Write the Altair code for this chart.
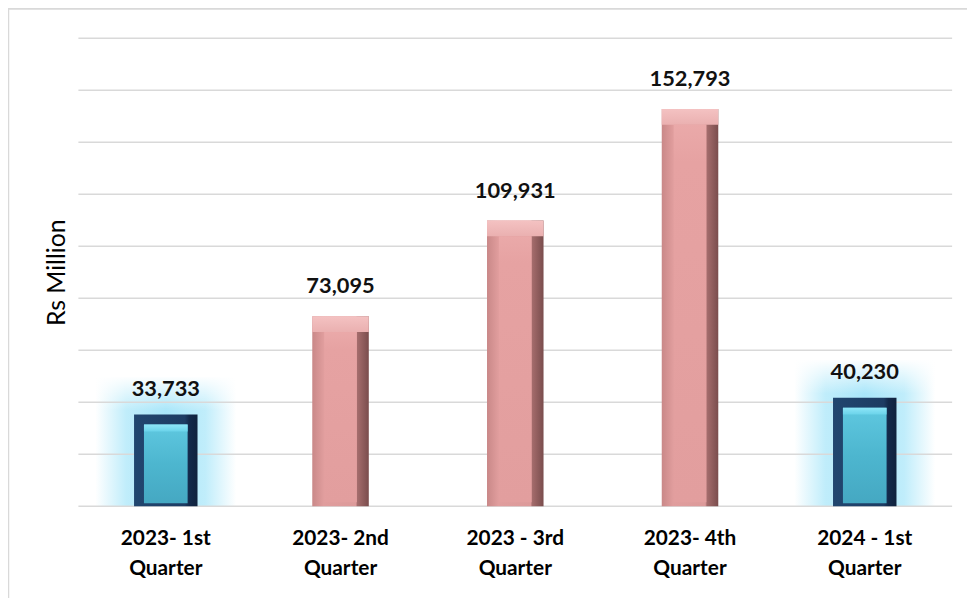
import altair as alt
import pandas as pd

categories = ["2023- 1st|Quarter", "2023- 2nd|Quarter", "2023 - 3rd|Quarter",
              "2023- 4th|Quarter", "2024 - 1st|Quarter"]
values = [33733, 73095, 109931, 152793, 40230]
highlight = [True, False, False, False, True]
grid_values = [0, 20000, 40000, 60000, 80000, 100000, 120000, 140000, 160000, 180000]

df = pd.DataFrame({"cat": categories, "value": values, "hl": highlight})
grid_df = pd.DataFrame({"g": grid_values})

FONT = "Lato"

x_enc = alt.X("cat:N", sort=categories, title=None,
              scale=alt.Scale(paddingInner=0.64, paddingOuter=0.32),
              axis=alt.Axis(labelExpr="split(datum.label, '|')", labelFont=FONT,
                            labelFontSize=21, labelFontWeight="bold", labelColor="#000000",
                            labelLineHeight=30, labelPadding=22, labelAngle=0,
                            domain=False, ticks=False, grid=False))
y_scale = alt.Scale(domain=[0, 180000], nice=False)
y_enc = alt.Y("value:Q", scale=y_scale, title="Rs Million",
              axis=alt.Axis(labels=False, ticks=False, domain=False, grid=False,
                            titleFont=FONT, titleFontSize=25, titleFontWeight="normal",
                            titleColor="#000000", titlePadding=9))


def grad_h(stops):
    return alt.LinearGradient(gradient="linear", x1=0, x2=1, y1=0, y2=0,
                              stops=[alt.GradientStop(offset=o, color=c) for o, c in stops])


def grad_v(stops):
    return alt.LinearGradient(gradient="linear", x1=0, x2=0, y1=0, y2=1,
                              stops=[alt.GradientStop(offset=o, color=c) for o, c in stops])


base = alt.Chart(df).encode(x=x_enc)
blue = base.transform_filter("datum.hl")
pink = base.transform_filter("!datum.hl")

# frame around chart
frame = alt.Chart(alt.Data(values=[{"a": 1}])).mark_rect(
    fill="transparent", stroke="#d9d9d9", strokeWidth=2.5
).encode(x=alt.value(-71), x2=alt.value(940), y=alt.value(-30), y2=alt.value(600))

# glow behind highlighted bars
glow = blue.mark_bar(size=142, yOffset=-42,
                     color=grad_h([(0, "rgba(150,225,248,0)"), (0.22, "rgba(150,225,248,0.6)"),
                                   (0.5, "rgba(140,222,248,0.75)"), (0.78, "rgba(150,225,248,0.6)"),
                                   (1, "rgba(150,225,248,0)")])
                     ).encode(y=y_enc, y2=alt.datum(0))
glow_fade = blue.mark_bar(size=144, yOffset=-43, y2Offset=-8,
                          color=grad_v([(0, "rgba(255,255,255,1)"), (1, "rgba(255,255,255,0)")])
                          ).encode(y="value:Q", y2="value:Q")

gridlines = alt.Chart(grid_df).mark_rule(color="#d9d9d9", strokeWidth=1.6).encode(
    y=alt.Y("g:Q", scale=y_scale))

# pink bars (bevel look)
p_outer = pink.mark_bar(size=57,
                        color=grad_h([(0, "#c98888"), (0.2, "#e09d9d"), (0.77, "#dc9a9a"),
                                      (0.8, "#a46c6c"), (1, "#7a4d4d")])
                        ).encode(y="value:Q", y2=alt.datum(0))
p_top = pink.mark_bar(size=57, y2Offset=16,
                      color=grad_v([(0, "#f4c2c2"), (1, "#eab0b0")])
                      ).encode(y="value:Q", y2="value:Q")
p_face = pink.mark_bar(size=33, yOffset=16, y2Offset=-4,
                       color=grad_v([(0, "#eaa9a9"), (0.1, "#e6a2a2"), (1, "#e29e9e")])
                       ).encode(y="value:Q", y2=alt.datum(0))

# blue bars
b_outer = blue.mark_bar(size=64, yOffset=-4,
                        color=grad_h([(0, "#21466f"), (0.8, "#1d3c63"), (0.87, "#13294a"),
                                      (1, "#10223d")])
                        ).encode(y="value:Q", y2=alt.datum(0))
b_face = blue.mark_bar(size=44, yOffset=6, y2Offset=-3,
                       color=grad_v([(0, "#5fc8e0"), (0.5, "#4db6cf"), (1, "#45a8c2")])
                       ).encode(y="value:Q", y2=alt.datum(0))
b_top = blue.mark_bar(size=44, yOffset=6, y2Offset=13,
                      color=grad_v([(0, "#8fe6f8"), (1, "#6ad3ea")])
                      ).encode(y="value:Q", y2="value:Q")

labels = base.mark_text(font=FONT, fontSize=22, fontWeight="bold", color="#111111",
                        baseline="bottom", dy=-18).encode(
    y="value:Q", text=alt.Text("value:Q", format=","))

chart = alt.layer(frame, glow, glow_fade, gridlines, p_outer, p_top, p_face,
                  b_outer, b_face, b_top, labels).properties(
    width=881, height=472,
    autosize=alt.AutoSizeParams(type="none"),
    padding={"left": 71, "top": 28, "right": 15, "bottom": 90},
).configure_view(stroke=None)

chart.save("out.html", embed_options={"renderer": "svg", "actions": False})
